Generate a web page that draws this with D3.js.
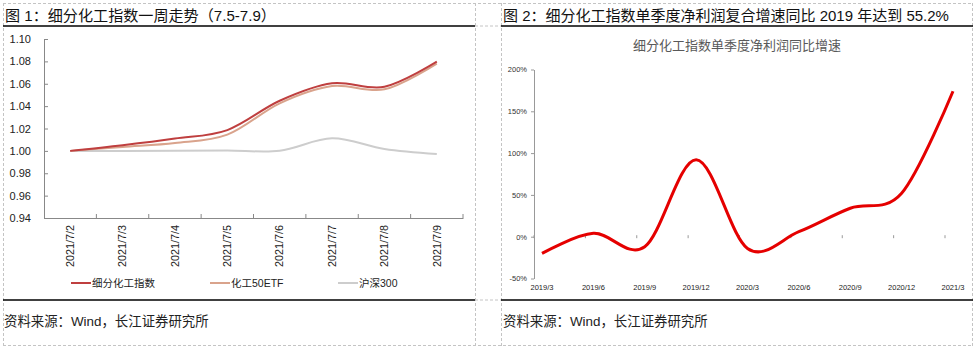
<!DOCTYPE html>
<html>
<head>
<meta charset="utf-8">
<script src="https://cdn.jsdelivr.net/npm/d3@7"></script>
<style>
  body { margin: 0; background: #fff; }
  svg { display: block; font-family: "Liberation Sans", Arial, "Noto Sans CJK SC", sans-serif; }
</style>
</head>
<body>
<svg id="main" width="977" height="350"></svg>
<script>
// ---------- data ----------
let days = ['2021/7/2', '2021/7/3', '2021/7/4', '2021/7/5', '2021/7/6', '2021/7/7', '2021/7/8', '2021/7/9']
let xifenIndex = [1.000, 1.005, 1.011, 1.0186, 1.0448, 1.0604, 1.0573, 1.0797]
let etf50 = [1.000, 1.0035, 1.007, 1.0145, 1.0425, 1.058, 1.055, 1.078]
let hs300 = [1.000, 1.000, 1.0002, 1.0004, 1.0001, 1.0112, 1.0017, 0.9972]
let yTicksLeft = [0.94, 0.96, 0.98, 1.00, 1.02, 1.04, 1.06, 1.08, 1.10]

let quarters = ['2019/3', '2019/6', '2019/9', '2019/12', '2020/3', '2020/6', '2020/9', '2020/12', '2021/3']
let profitGrowth = [-20, 4, -12, 92, -14, 6, 34, 52, 174]
let yTicksRight = [-50, 0, 50, 100, 150, 200]

let series = [
    { name: '细分化工指数', values: xifenIndex, color: '#bf3f3f' },
    { name: '化工50ETF', values: etf50, color: '#d9a38c' },
    { name: '沪深300', values: hs300, color: '#cdcdcd' }
]

let svg = d3.select('#main')
let axisColor = '#888'

/* ---------------- table frame ---------------- */
let frame = svg.append('g')
let dash = { stroke: '#c4c4c4', 'stroke-dasharray': '3,2', 'stroke-width': 1 }
function dline(x1, y1, x2, y2) {
    let l = frame.append('line').attr('x1', x1).attr('y1', y1).attr('x2', x2).attr('y2', y2)
    for (let k in dash) l.attr(k, dash[k])
}
dline(3, 3.5, 973, 3.5)
dline(3, 345.5, 973, 345.5)
dline(475, 26, 501, 26)
dline(475, 300, 501, 300)
for (let x of [3.5, 475.5, 501.5, 972.5]) dline(x, 3, x, 346)

for (let [a, b] of [[3, 475], [501, 973]]) {
    frame.append('line').attr('x1', a).attr('x2', b).attr('y1', 26).attr('y2', 26)
        .attr('stroke', '#000').attr('stroke-width', 1.5)
    frame.append('line').attr('x1', a).attr('x2', b).attr('y1', 300).attr('y2', 300)
        .attr('stroke', '#000').attr('stroke-width', 1.5)
}

frame.append('text').attr('x', 5).attr('y', 21).attr('font-size', 15.1).attr('fill', '#111')
    .text('图 1：细分化工指数一周走势（7.5-7.9）')
frame.append('text').attr('x', 503).attr('y', 21).attr('font-size', 15).attr('fill', '#111')
    .text('图 2：细分化工指数单季度净利润复合增速同比 2019 年达到 55.2%')
for (let x of [4, 503]) {
    frame.append('text').attr('x', x).attr('y', 326).attr('font-size', 13.4).attr('fill', '#222')
        .text('资料来源：Wind，长江证券研究所')
}

/* ---------------- left chart ---------------- */
let left = svg.append('g')
let x1 = d3.scaleBand().domain(days).range([44, 463])
let y1 = d3.scaleLinear().domain([0.94, 1.10]).range([218, 39])

let yAxis1 = left.append('g').attr('transform', 'translate(44,0)')
    .call(d3.axisLeft(y1).tickValues(yTicksLeft).tickFormat(d3.format('.2f')).tickSizeInner(-4).tickSizeOuter(0).tickPadding(13))
yAxis1.selectAll('text').attr('font-size', 11).attr('fill', '#222')

let xAxis1 = left.append('g').attr('transform', 'translate(0,218)')
    .call(d3.axisBottom(x1).tickSize(0).tickSizeOuter(0))
xAxis1.selectAll('text')
    .attr('font-size', 10.8).attr('fill', '#222')
    .attr('transform', 'rotate(-90)')
    .attr('text-anchor', 'end')
    .attr('x', -7).attr('y', 0).attr('dy', '0.35em')
// band boundary ticks pointing up
left.append('g').selectAll('line').data(days.slice(1).concat(['end']))
    .enter().append('line')
    .attr('x1', function (d, i) { return x1.range()[0] + x1.step() * (i + 1) })
    .attr('x2', function (d, i) { return x1.range()[0] + x1.step() * (i + 1) })
    .attr('y1', 218).attr('y2', 214)
    .attr('stroke', axisColor)

for (let ax of [yAxis1, xAxis1]) {
    ax.select('.domain').attr('stroke', axisColor)
    ax.selectAll('.tick line').attr('stroke', axisColor)
}

let line1 = d3.line()
    .x(function (d, i) { return x1(days[i]) + x1.bandwidth() / 2 })
    .y(function (d) { return y1(d) })
    .curve(d3.curveCardinal)

for (let s of series.slice().reverse()) {
    left.append('path').datum(s.values)
        .attr('d', line1).attr('fill', 'none')
        .attr('stroke', s.color).attr('stroke-width', 2)
}

// legend
let legendX = [71, 210, 338]
let legend = left.append('g').selectAll('g').data(series).enter().append('g')
    .attr('transform', function (d, i) { return 'translate(' + legendX[i] + ',283)' })
legend.append('line').attr('x1', 0).attr('x2', 20).attr('y1', 0).attr('y2', 0)
    .attr('stroke', function (d) { return d.color }).attr('stroke-width', 2)
legend.append('text').attr('x', 21).attr('y', 4).attr('font-size', 10.5).attr('fill', '#222')
    .text(function (d) { return d.name })

/* ---------------- right chart ---------------- */
let right = svg.append('g')
right.append('text').attr('x', 737).attr('y', 50).attr('text-anchor', 'middle')
    .attr('font-size', 13).attr('fill', '#595959')
    .text('细分化工指数单季度净利润同比增速')

let x2 = d3.scalePoint().domain(quarters).range([542, 953])
let y2 = d3.scaleLinear().domain([-50, 200]).range([278.5, 69.5])

let yAxis2 = right.append('g').attr('transform', 'translate(534,0)')
    .call(d3.axisLeft(y2).tickValues(yTicksRight).tickFormat(function (d) { return d + '%' }).tickSizeInner(3).tickSizeOuter(0).tickPadding(4))
yAxis2.select('.domain').attr('stroke', '#999')
yAxis2.selectAll('.tick line').attr('stroke', '#999')
yAxis2.selectAll('text').attr('font-size', 7.5).attr('fill', '#333')

// category labels along the bottom
right.append('g').selectAll('text').data(quarters).enter().append('text')
    .attr('x', function (d) { return x2(d) })
    .attr('y', 290)
    .attr('text-anchor', 'middle')
    .attr('font-size', 7.5).attr('fill', '#222')
    .text(function (d) { return d })

// faint ticks on the zero line
right.append('g').selectAll('line').data(quarters).enter().append('line')
    .attr('x1', function (d) { return x2(d) - 8 })
    .attr('x2', function (d) { return x2(d) - 8 })
    .attr('y1', y2(0) - 1.5).attr('y2', y2(0) + 1.5)
    .attr('stroke', '#999')

let line2 = d3.line()
    .x(function (d, i) { return x2(quarters[i]) })
    .y(function (d) { return y2(d) })
    .curve(d3.curveCardinal)

right.append('path').datum(profitGrowth)
    .attr('d', line2).attr('fill', 'none')
    .attr('stroke', '#e50000').attr('stroke-width', 3)
</script>
</body>
</html>
